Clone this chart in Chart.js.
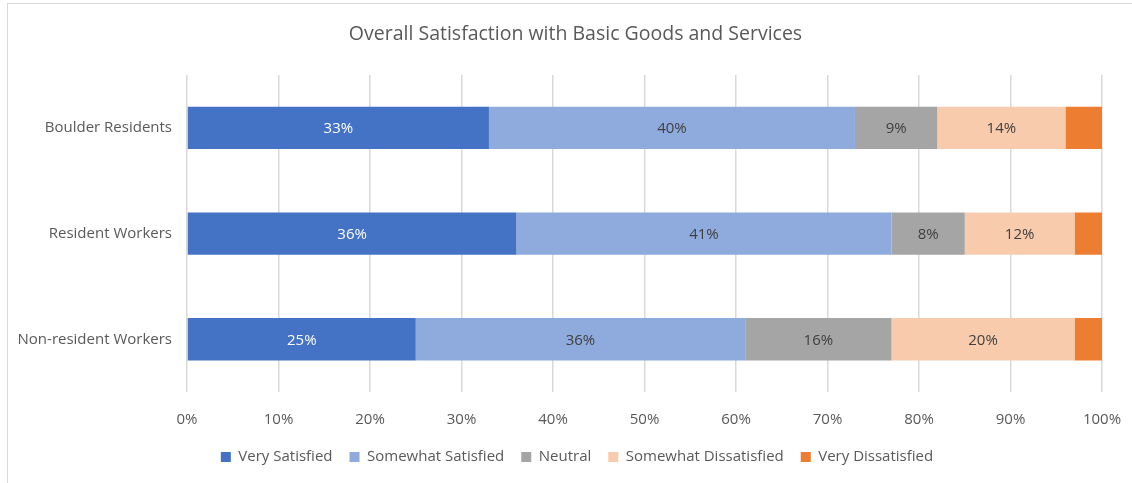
<!DOCTYPE html>
<html>
<head>
<meta charset="utf-8">
<script src="https://cdn.jsdelivr.net/npm/chart.js@4/dist/chart.umd.min.js"></script>
<style>
  html, body { margin: 0; padding: 0; background: #fff; overflow: hidden; }
  #frame { position: absolute; left: 7px; top: 3px; width: 1140px; height: 500px;
           border-left: 1px solid #d9d9d9; border-top: 1px solid #d9d9d9; }
  #c { position: absolute; left: 0; top: 0; }
</style>
</head>
<body>
<div id="frame"></div>
<canvas id="c" width="1132" height="483"></canvas>
<script>
const categories = ["Boulder Residents", "Resident Workers", "Non-resident Workers"];
const seriesNames = ["Very Satisfied", "Somewhat Satisfied", "Neutral", "Somewhat Dissatisfied", "Very Dissatisfied"];
const verySatisfied = [33, 36, 25];
const somewhatSatisfied = [40, 41, 36];
const neutral = [9, 8, 16];
const somewhatDissatisfied = [14, 12, 20];
const veryDissatisfied = [4, 3, 3];
const xTicks = [0, 10, 20, 30, 40, 50, 60, 70, 80, 90, 100];

const colors = ["#4472c4", "#8faadc", "#a5a5a5", "#f8cbad", "#ed7d31"];
const labelColors = ["#ffffff", "#404040", "#404040", "#404040", null];
const FONT = "'Open Sans', sans-serif";
const TXT = "#595959";

const seriesData = [verySatisfied, somewhatSatisfied, neutral, somewhatDissatisfied, veryDissatisfied];

const barLabels = {
  id: 'barLabels',
  afterDatasetsDraw(chart) {
    const ctx = chart.ctx;
    ctx.save();
    ctx.font = "15px " + FONT;
    ctx.textAlign = 'center';
    ctx.textBaseline = 'middle';
    chart.data.datasets.forEach((ds, i) => {
      if (!labelColors[i]) return;
      const meta = chart.getDatasetMeta(i);
      meta.data.forEach((bar, j) => {
        const v = ds.data[j];
        const cx = (bar.x + bar.base) / 2;
        ctx.fillStyle = labelColors[i];
        ctx.fillText(v + '%', cx, bar.y + 1);
      });
    });
    ctx.restore();
  }
};

// shift centred title and legend to match the original's horizontal placement
const shiftBlocks = {
  id: 'shiftBlocks',
  afterLayout(chart) {
    if (chart.titleBlock) { chart.titleBlock.left += 24.5; chart.titleBlock.right += 24.5; }
    if (chart.legend) { chart.legend.left += 26; chart.legend.right += 26; }
  }
};

new Chart(document.getElementById('c'), {
  type: 'bar',
  data: {
    labels: categories,
    datasets: seriesNames.map((n, i) => ({
      label: n,
      data: seriesData[i],
      backgroundColor: colors[i],
      borderWidth: 0,
      categoryPercentage: 1.0,
      barPercentage: 0.4
    }))
  },
  options: {
    indexAxis: 'y',
    responsive: false,
    animation: false,
    devicePixelRatio: 1,
    layout: { padding: { left: 0, right: 30, top: 0, bottom: 8.4 } },
    plugins: {
      title: {
        display: true,
        text: 'Overall Satisfaction with Basic Goods and Services',
        color: TXT,
        font: { family: FONT, size: 19.5, weight: 'normal' },
        padding: { top: 23, bottom: 28.6 }
      },
      legend: {
        position: 'bottom',
        labels: {
          color: TXT,
          font: { family: FONT, size: 15 },
          boxWidth: 10,
          boxHeight: 10,
          padding: 17
        }
      },
      tooltip: { enabled: false }
    },
    scales: {
      x: {
        stacked: true,
        min: 0,
        max: 100,
        afterBuildTicks(scale) { scale.ticks = xTicks.map(v => ({ value: v })); },
        afterFit(scale) { scale.height = 40.5; scale.paddingLeft = 0; scale.paddingRight = 0; },
        ticks: {
          color: TXT,
          font: { family: FONT, size: 15 },
          padding: 18.5,
          callback: v => v + '%'
        },
        grid: { color: '#d9d9d9', lineWidth: 1.5, drawTicks: false },
        border: { display: false }
      },
      y: {
        stacked: true,
        afterFit(scale) { scale.width = 187; },
        ticks: {
          color: TXT,
          font: { family: FONT, size: 15 },
          padding: 7
        },
        grid: { display: false },
        border: { display: false }
      }
    }
  },
  plugins: [barLabels, shiftBlocks]
});
</script>
</body>
</html>
